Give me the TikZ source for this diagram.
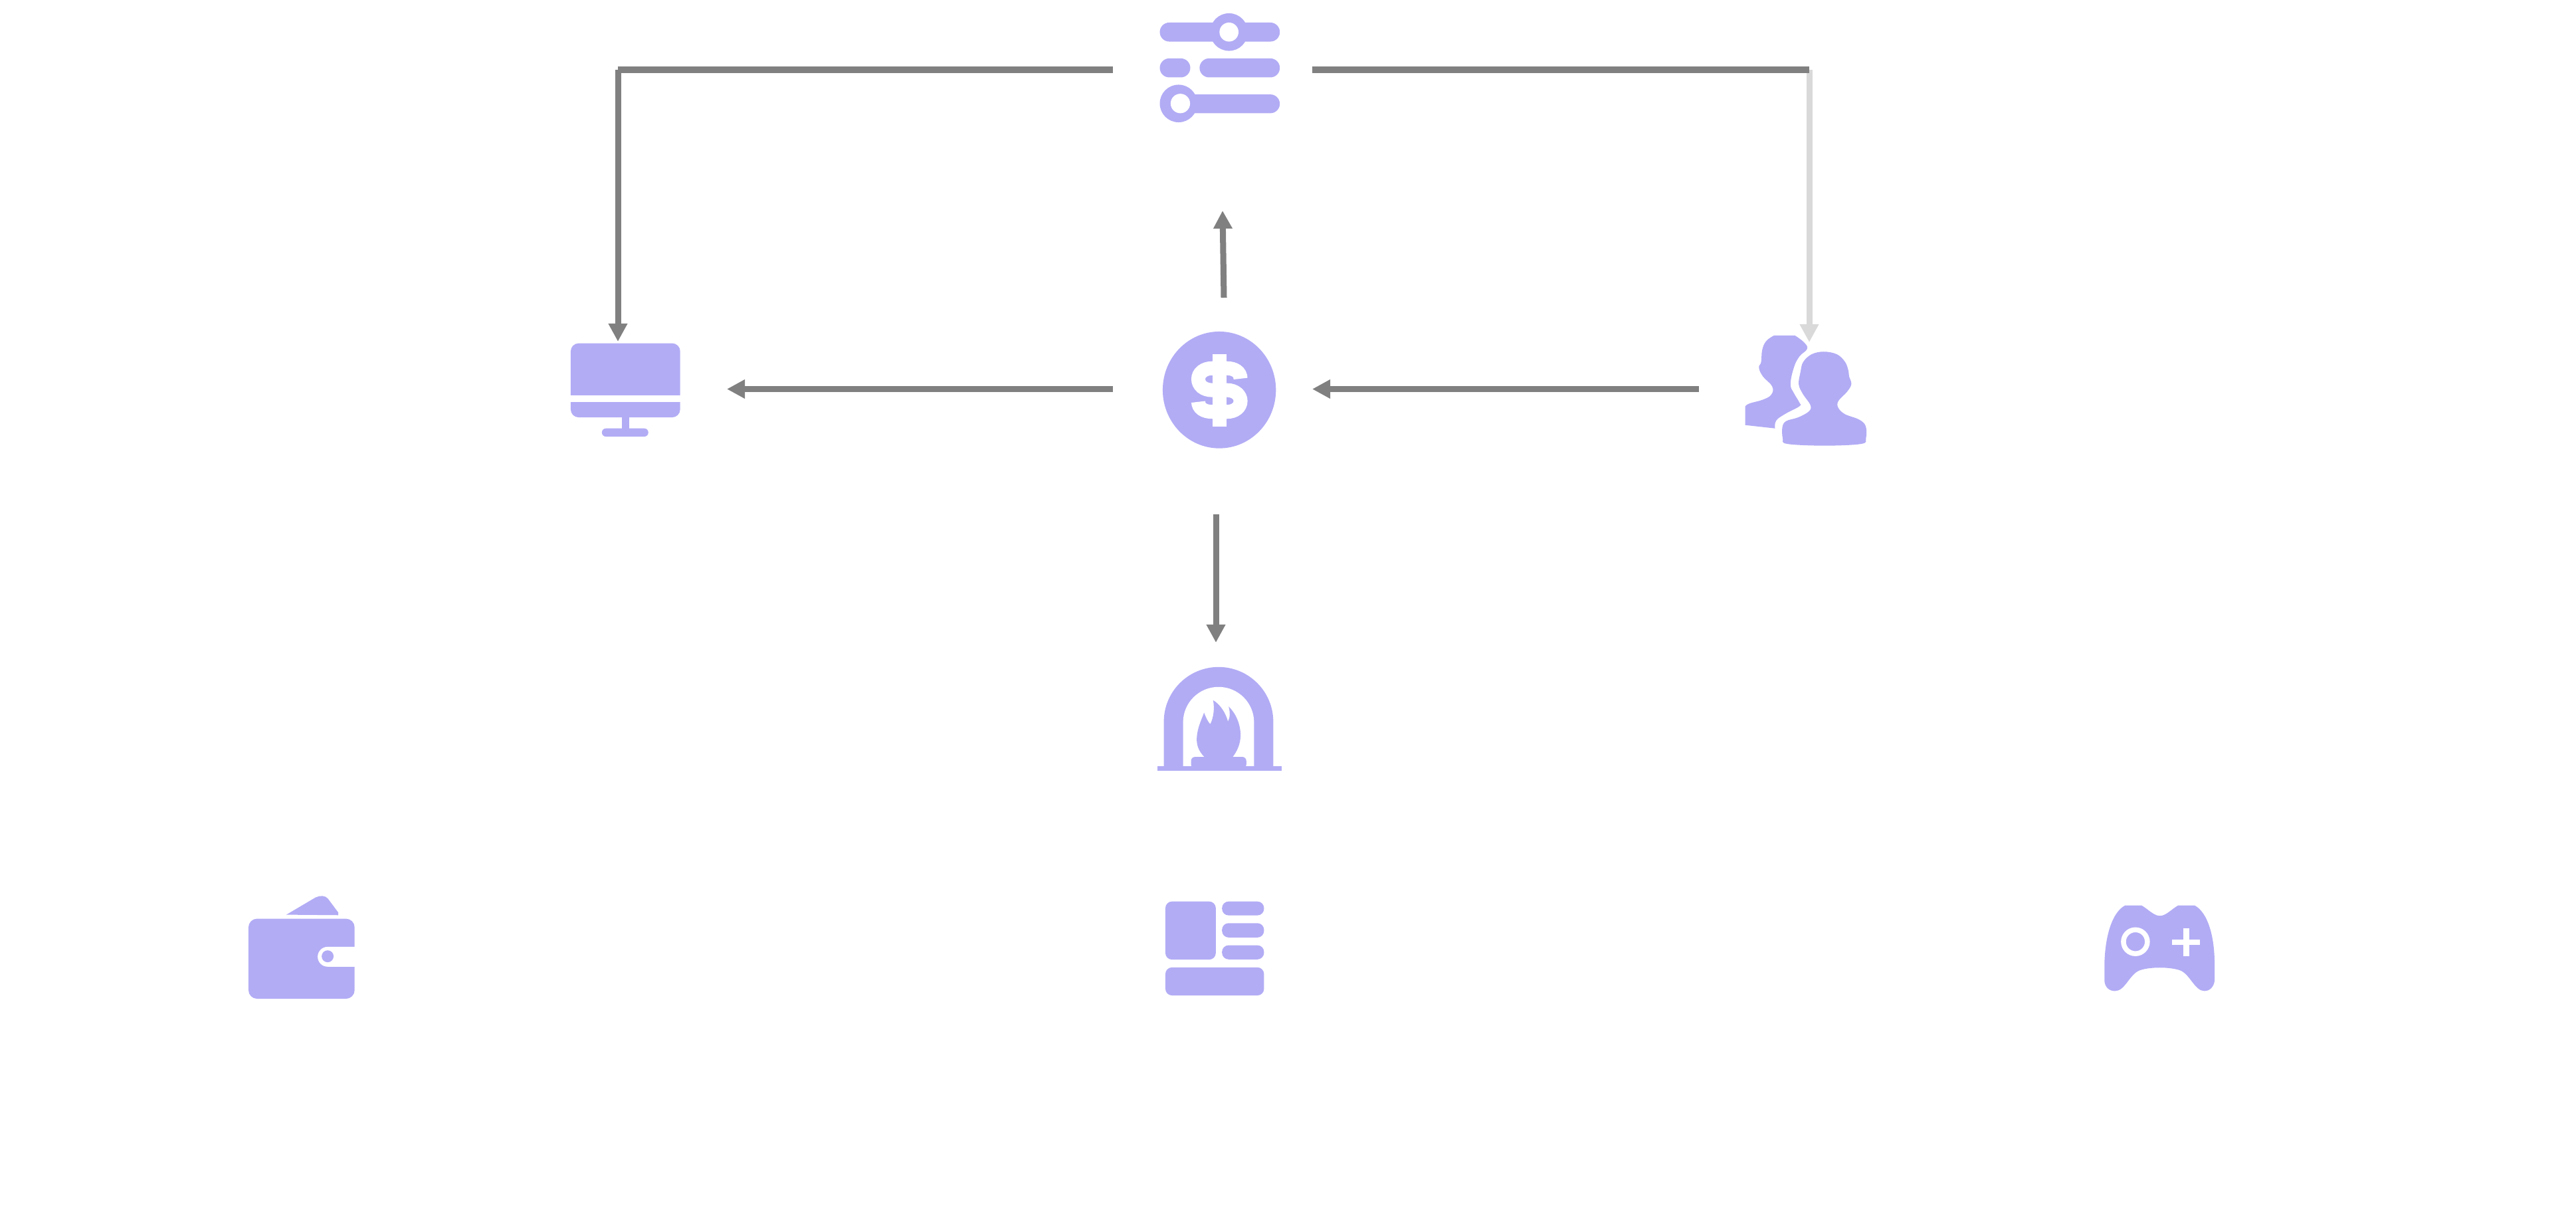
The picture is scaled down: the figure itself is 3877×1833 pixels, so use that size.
\documentclass[tikz,border=0pt]{standalone}
\usetikzlibrary{arrows.meta}
\definecolor{iconviolet}{RGB}{178,172,245}
\definecolor{linegrey}{RGB}{128,128,128}
\definecolor{linepale}{RGB}{217,217,217}
\tikzset{
  zoomed/.style={x=0.0033333cm,y=-0.0033333cm},
  iconfill/.style={fill=iconviolet,draw=none},
  holefill/.style={fill=white,draw=none},
  connector/.style={draw=linegrey,line width=0.09cm},
  flow/.style={connector,-{Triangle[length=0.27cm,width=0.27cm]}},
  paleflow/.style={flow,draw=linepale},
}
\begin{document}
\begin{tikzpicture}[x=0.01cm,y=-0.01cm]
\useasboundingbox (0,0) rectangle (3877,1833);

% ---- sliders
\begin{scope}[shift={(1650,0)},zoomed]
  \fill[iconfill,rounded corners=0.143cm] (287,102) rectangle (830,188);
  \fill[iconfill] (600,145) circle[radius=85];
  \fill[holefill] (600,145) circle[radius=43];
  \fill[iconfill,rounded corners=0.143cm] (287,264) rectangle (425,350);
  \fill[iconfill,rounded corners=0.143cm] (467,264) rectangle (830,350);
  \fill[iconfill,rounded corners=0.143cm] (380,427) rectangle (830,512);
  \fill[iconfill] (372,468) circle[radius=85];
  \fill[holefill] (380,468) circle[radius=44];
\end{scope}

% ---- dollar coin
\begin{scope}[shift={(1700,470)},zoomed]
  \fill[iconfill] (406,351) ellipse[x radius=256,y radius=264];
  \fill[holefill] (375,188) rectangle (438,517);
  \draw[white,line width=0.21cm] (502,300) .. controls (502,270) and (475,253) .. (440,253)
    -- (375,253) .. controls (335,253) and (311,275) .. (311,302)
    .. controls (311,330) and (335,352) .. (375,352) -- (440,352)
    .. controls (478,352) and (502,375) .. (502,401)
    .. controls (502,428) and (478,450) .. (440,450) -- (375,450)
    .. controls (335,450) and (311,432) .. (311,405);
\end{scope}

% ---- monitor
\begin{scope}[shift={(820,480)},zoomed]
  \fill[iconfill,rounded corners=0.12cm] (117,110) rectangle (612,445);
  \fill[holefill] (110,345) rectangle (620,376);
  \fill[iconfill] (348,440) rectangle (382,500);
  \fill[iconfill,rounded corners=0.06cm] (258,495) rectangle (468,532);
\end{scope}

% ---- two persons
\begin{scope}[shift={(2590,470)},zoomed]
  \fill[iconfill] plot[smooth,tension=0.7] coordinates {(240,105) (205,130) (187,170) (182,225) (172,250) (190,290) (232,335) (228,372) (190,395) (130,412) (110,425)}
    -- (110,510) -- (245,525) -- plot[smooth,tension=0.7] coordinates {(245,525) (250,490) (290,460) (355,425) (355,408) (330,365) (315,325) (330,250) (355,200) (390,165) (375,135) (335,105)} -- cycle;
  \fill[iconfill] plot[smooth cycle,tension=0.6] coordinates {(465,178) (410,190) (372,225) (360,270) (352,325) (370,368) (405,420) (398,448) (350,475) (295,492) (278,520) (280,570) (300,595) (470,603) (635,595) (656,570) (655,515) (625,485) (560,460) (530,430) (532,400) (570,360) (590,325) (580,290) (577,265) (562,225) (525,190)};
\end{scope}

% ---- fireplace
\begin{scope}[shift={(1720,980)},zoomed]
  \fill[iconfill] (95,525) -- (95,319) arc[start angle=180,end angle=360,radius=247.5] -- (590,525) -- cycle;
  \fill[holefill] (182,525) -- (182,322) arc[start angle=180,end angle=360,radius=160.5] -- (503,525) -- cycle;
  \fill[iconfill] (66,520) rectangle (627,540);
  \fill[iconfill,rounded corners=0.06cm] (218,478) rectangle (468,530);
  \fill[iconfill] (280,480) .. controls (250,450) and (240,420) .. (245,380)
    .. controls (250,340) and (265,310) .. (277,278)
    .. controls (285,300) and (295,320) .. (305,330)
    .. controls (320,300) and (325,260) .. (318,222)
    .. controls (350,240) and (375,280) .. (385,318)
    .. controls (395,300) and (395,275) .. (388,250)
    .. controls (420,280) and (442,330) .. (442,380)
    .. controls (442,420) and (425,455) .. (405,480) -- cycle;
\end{scope}

% ---- wallet
\begin{scope}[shift={(350,1330)},zoomed]
  \fill[iconfill] (243,140) -- (375,62) .. controls (395,52) and (420,52) .. (432,68) -- (478,130) -- (478,142) -- cycle;
  \fill[iconfill,rounded corners=0.13cm] (72,158) rectangle (552,520);
  \fill[holefill,rounded corners=0.15cm] (385,285) rectangle (700,375);
  \fill[iconfill] (430,328) circle[radius=27];
\end{scope}

% ---- layout
\begin{scope}[shift={(1730,1330)},zoomed]
  \fill[iconfill,rounded corners=0.1cm] (72,80) rectangle (300,343);
  \fill[iconfill,rounded corners=0.1cm] (328,80) rectangle (518,143);
  \fill[iconfill,rounded corners=0.1cm] (328,178) rectangle (518,243);
  \fill[iconfill,rounded corners=0.1cm] (328,278) rectangle (518,342);
  \fill[iconfill,rounded corners=0.1cm] (72,378) rectangle (518,505);
\end{scope}

% ---- game pad
\begin{scope}[shift={(3140,1340)},zoomed]
  \fill[iconfill] (175,68) -- (250,68) .. controls (280,85) and (305,115) .. (333,115)
    .. controls (360,115) and (385,85) .. (415,68) -- (490,68)
    .. controls (550,100) and (580,210) .. (580,330) -- (580,410)
    .. controls (575,440) and (555,455) .. (535,455)
    .. controls (490,455) and (470,380) .. (425,362)
    .. controls (380,345) and (285,345) .. (240,362)
    .. controls (195,380) and (175,455) .. (130,455)
    .. controls (105,455) and (85,440) .. (82,410) -- (82,330)
    .. controls (85,210) and (115,100) .. (175,68) -- cycle;
  \draw[white,line width=0.075cm] (222,232) circle[radius=54];
  \fill[holefill] (388,223) rectangle (515,245);
  \fill[holefill] (438,172) rectangle (465,298);
\end{scope}

% ---- connector ends
\coordinate (sliderL) at (1675,105);
\coordinate (sliderR) at (1975,105);
\coordinate (cornerL) at (930,105);
\coordinate (cornerR) at (2723,105);
\coordinate (monitorT) at (930,514);
\coordinate (monitorR) at (1094,585.5);
\coordinate (personT) at (2723,515);
\coordinate (personL) at (2557,585.5);
\coordinate (dollarL) at (1675,585.5);
\coordinate (dollarR) at (1975,585.5);
\coordinate (dollarT) at (1842,448);
\coordinate (dollarB) at (1830,774);
\coordinate (sliderB) at (1840,317);
\coordinate (fireT) at (1830,967);

% ---- connectors
\draw[paleflow] (cornerR) -- (personT);
\draw[connector] (sliderR) -- (cornerR);
\draw[connector] (sliderL) -- (cornerL);
\draw[flow] (cornerL) -- (monitorT);
\draw[flow] (dollarL) -- (monitorR);
\draw[flow] (personL) -- (dollarR);
\draw[flow] (dollarT) -- (sliderB);
\draw[flow] (dollarB) -- (fireT);
\end{tikzpicture}
\end{document}
